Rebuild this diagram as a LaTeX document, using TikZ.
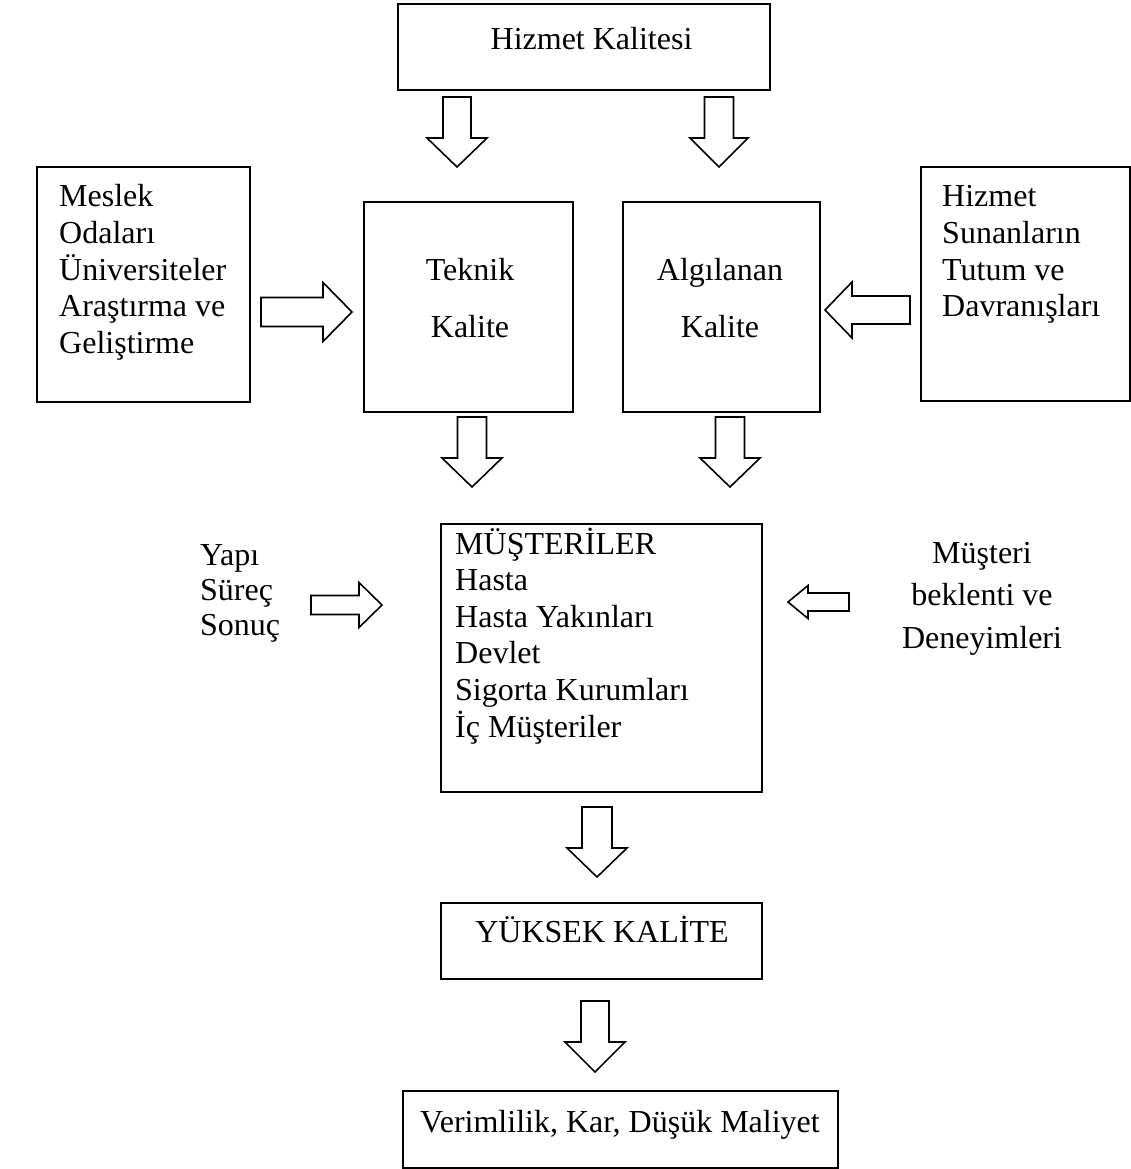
\documentclass[tikz,border=0pt]{standalone}
\usepackage{fontspec}
\setmainfont{Liberation Serif}
\usetikzlibrary{positioning}

\tikzset{
  box/.style={draw,line width=2.3pt,inner sep=0pt},
  thinbox/.style={draw,line width=1.3pt,inner sep=0pt},
  txt/.style={inner sep=0pt,font=\fontsize{32}{36.6}\selectfont},
  arr/.style={draw,line width=1.6pt,fill=white,line join=miter}
}
% block arrow: tail, angle, length, head length, shaft half width, head half width
\newcommand{\blk}[6]{%
  \draw[arr,shift={(#1)},rotate=#2] (0,-#5) -- (#3-#4,-#5) -- (#3-#4,-#6) -- (#3,0)
    -- (#3-#4,#6) -- (#3-#4,#5) -- (0,#5) -- cycle;}

\begin{document}
\begin{tikzpicture}[x=1pt,y=-1pt]
\useasboundingbox (0,0) rectangle (1131,1169);

% boxes
\node[box,minimum width=372pt,minimum height=86pt] (hk) at (584,47) {};
\node[thinbox,minimum width=213pt,minimum height=235pt] (meslek) at (143.5,284.5) {};
\node[box,minimum width=209pt,minimum height=210pt] (teknik) at (468.5,307) {};
\node[box,minimum width=197pt,minimum height=210pt] (algi) at (721.5,307) {};
\node[thinbox,minimum width=209pt,minimum height=234pt] (sunan) at (1025.5,284) {};
\node[box,minimum width=321pt,minimum height=268pt] (must) at (601.5,658) {};
\node[box,minimum width=321pt,minimum height=76pt] (yuksek) at (601.5,941) {};
\node[box,minimum width=435pt,minimum height=77pt] (verim) at (620.5,1129.5) {};

% texts
\node[txt,anchor=base] (hkt) at (591.5,50) {Hizmet Kalitesi};
\node[txt,anchor=base] (tek1) at (470,280) {Teknik};
\node[txt,anchor=base] (tek2) at (470,337) {Kalite};
\node[txt,anchor=base] (alg1) at (720,280) {Algılanan};
\node[txt,anchor=base] (alg2) at (720,337) {Kalite};
\foreach \t [count=\i] in {Meslek,Odaları,Üniversiteler,Araştırma ve,Geliştirme}
  \node[txt,anchor=base west] (ml\i) at (59,{207+36.6*(\i-1)}) {\t};
\foreach \t [count=\i] in {Hizmet,Sunanların,Tutum ve,Davranışları}
  \node[txt,anchor=base west] (sl\i) at (942,{207+36.6*(\i-1)}) {\t};
\foreach \t [count=\i] in {MÜŞTERİLER,Hasta,Hasta Yakınları,Devlet,Sigorta Kurumları,İç Müşteriler}
  \node[txt,anchor=base west] (mu\i) at (455,{554+36.6*(\i-1)}) {\t};
\foreach \t [count=\i] in {Yapı,Süreç,Sonuç}
  \node[txt,anchor=base west] (ys\i) at (200,{565+35*(\i-1)}) {\t};
\foreach \t [count=\i] in {Müşteri,beklenti ve,Deneyimleri}
  \node[txt,anchor=base] (mb\i) at (982,{563+42.5*(\i-1)}) {\t};
\node[txt,anchor=base] (yukt) at (602,942) {YÜKSEK KALİTE};
\node[txt,anchor=base] (vert) at (620,1132) {Verimlilik, Kar, Düşük Maliyet};

% arrow tails
\coordinate (a1) at (457,97);
\coordinate (a2) at (719,97);
\coordinate (a3) at (472,417);
\coordinate (a4) at (730,417);
\coordinate (a5) at (597,807);
\coordinate (a6) at (595,1001);
\coordinate (a7) at (261,312);
\coordinate (a8) at (311,605);
\coordinate (a9) at (910,310);
\coordinate (a10) at (849,602);

\blk{a1}{-90}{70}{29}{14}{30}
\blk{a2}{-90}{70}{29}{14.5}{29}
\blk{a3}{-90}{70}{29}{14.5}{30}
\blk{a4}{-90}{70}{29}{14.5}{30}
\blk{a5}{-90}{70}{29}{15}{30}
\blk{a6}{-90}{71}{30}{14}{30}
\blk{a7}{0}{91}{29}{14.5}{29.5}
\blk{a8}{0}{71}{23}{9.5}{22.5}
\blk{a9}{180}{85}{27}{14}{28}
\blk{a10}{180}{61}{20}{9}{16.5}
\end{tikzpicture}
\end{document}
